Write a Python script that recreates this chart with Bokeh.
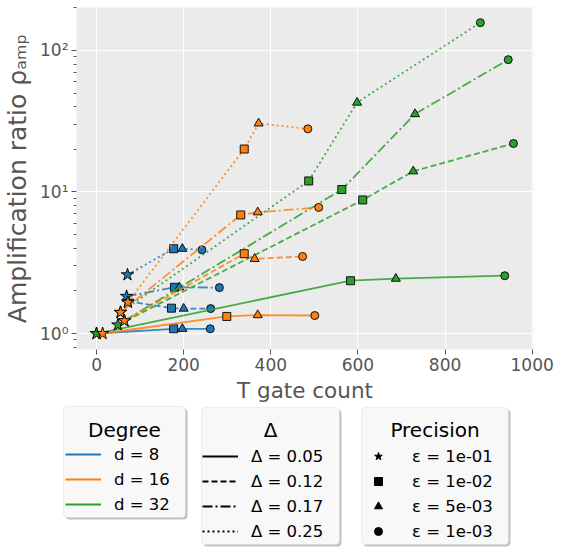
from bokeh.plotting import figure
from bokeh.models import (ColumnDataSource, Range1d, FixedTicker, CustomJSTickFormatter,
                          Legend, LegendItem, Label, BoxAnnotation)
from bokeh.core.properties import field
from bokeh.layouts import column
from bokeh.embed import file_html
from bokeh.resources import INLINE

# ---------------- data ----------------
DEGREES = ["d = 8", "d = 16", "d = 32"]
DELTAS = ["Δ = 0.05", "Δ = 0.12", "Δ = 0.17", "Δ = 0.25"]
PRECISIONS = ["ε = 1e-01", "ε = 1e-02", "ε = 5e-03", "ε = 1e-03"]

# rows: Δ = 0.05, 0.12, 0.17, 0.25 ; columns: ε = 1e-1, 1e-2, 5e-3, 1e-3
t_d8 = [[0, 177, 197, 261], [72, 172, 200, 262], [69, 179, 190, 282], [71, 177, 197, 242]]
amp_d8 = [[1.0, 1.08, 1.08, 1.08], [1.69, 1.51, 1.50, 1.50],
          [1.83, 2.12, 2.12, 2.11], [2.60, 3.97, 3.97, 3.90]]
t_d16 = [[14, 299, 370, 501], [64, 339, 363, 473], [55, 331, 370, 510], [72, 339, 372, 485]]
amp_d16 = [[1.0, 1.32, 1.35, 1.34], [1.23, 3.66, 3.37, 3.50],
           [1.41, 6.88, 7.19, 7.77], [1.66, 20.1, 30.5, 27.9]]
t_d32 = [[0, 583, 687, 937], [49, 611, 727, 957], [64, 563, 731, 945], [55, 487, 598, 881]]
amp_d32 = [[1.0, 2.36, 2.44, 2.56], [1.15, 8.78, 14.0, 22.0],
           [1.23, 10.4, 35.5, 86.0], [1.41, 11.96, 42.8, 157.0]]

X_TICKS = [0, 200, 400, 600, 800, 1000]
Y_TICKS = [1, 10, 100]

# ---------------- styles ----------------
COLORS = ["#1f77b4", "#ff7f0e", "#2ca02c"]
DASHES = ["solid", "6 3", "10 3 2 3", "2 3"]
MARKERS = ["star", "square", "triangle", "circle"]
SIZES = [13, 8, 9, 8]
FONT = "DejaVu Sans"
GREY = "#555555"

T_ALL = [t_d8, t_d16, t_d32]
A_ALL = [amp_d8, amp_d16, amp_d32]

p = figure(width=561, height=405, x_range=Range1d(-46, 1003), y_range=Range1d(0.771, 200.9),
           y_axis_type="log", output_backend="svg", toolbar_location=None,
           min_border_left=76, min_border_right=28, min_border_top=7, min_border_bottom=55)
p.frame_align = False
p.background_fill_color = "#EBEBEB"
p.border_fill_color = "white"
p.outline_line_color = None
p.grid.grid_line_color = "white"
p.grid.grid_line_width = 1

minor = [0.8, 0.9] + [m * 10 ** e for e in range(0, 2) for m in range(2, 10)] + [200]
p.xaxis.ticker = FixedTicker(ticks=X_TICKS)
p.yaxis.ticker = FixedTicker(ticks=Y_TICKS, minor_ticks=minor)
p.yaxis.formatter = CustomJSTickFormatter(code="""
const sup = {"-": "⁻", "0": "⁰", "1": "¹", "2": "²", "3": "³", "4": "⁴",
             "5": "⁵", "6": "⁶", "7": "⁷", "8": "⁸", "9": "⁹"};
const e = Math.round(Math.log10(tick));
return "10" + String(e).split("").map(c => sup[c]).join("");
""")

for ax in (p.xaxis[0], p.yaxis[0]):
    ax.axis_line_color = None
    ax.major_tick_line_color = GREY
    ax.major_tick_out = 5
    ax.major_tick_in = 0
    ax.minor_tick_line_color = GREY
    ax.minor_tick_out = 3
    ax.minor_tick_in = 0
    ax.major_label_text_font = FONT
    ax.major_label_text_font_size = "17px"
    ax.major_label_text_color = GREY
    ax.major_label_standoff = 3
    ax.axis_label_text_font = FONT
    ax.axis_label_text_font_style = "normal"
    ax.axis_label_text_color = GREY
p.xaxis.minor_tick_line_color = None
p.xaxis.axis_label = "T gate count"
p.xaxis.axis_label_text_font_size = "21.5px"
p.xaxis.axis_label_standoff = 4
p.yaxis.axis_label = "Amplification ratio ρₐₘₚ"
p.yaxis.axis_label_text_font_size = "25px"
p.yaxis.axis_label_standoff = 5

for di in [0, 2, 1]:
    for k in range(len(DELTAS)):
        t = T_ALL[di][k]
        a = A_ALL[di][k]
        p.line(t, a, line_color=COLORS[di], line_dash=DASHES[k], line_width=1.8, line_alpha=0.85)
        src = ColumnDataSource(dict(x=t, y=a, m=MARKERS, s=SIZES))
        p.scatter("x", "y", marker=field("m"), size=field("s"), source=src,
                  fill_color=COLORS[di], line_color="black", line_width=0.9)

# ---------------- legends (below) ----------------
H2 = 147
q = figure(width=561, height=H2, x_range=Range1d(0, 561), y_range=Range1d(0, H2),
           x_axis_type=None, y_axis_type=None, output_backend="svg", toolbar_location=None,
           min_border=0)
q.frame_align = False
q.outline_line_color = None
q.background_fill_color = "white"
q.border_fill_color = "white"

PAGE_TOP = 405


def py(y):
    return PAGE_TOP + H2 - y


boxes = [(63, 185, 406, 517), (201, 339, 407, 544), (361, 508, 407, 544)]
for (l, r, t, b) in boxes:
    q.add_layout(BoxAnnotation(left=l + 2, right=r + 2, top=py(t + 2), bottom=py(b + 2),
                               fill_color="#999999", fill_alpha=0.6, line_color=None,
                               border_radius=4, level="underlay"))
    q.add_layout(BoxAnnotation(left=l, right=r, top=py(t), bottom=py(b),
                               fill_color="#F8F8F8", fill_alpha=1.0, line_color="#CCCCCC",
                               line_width=1, border_radius=4, level="underlay"))

# off-screen stand-ins that only give the legend entries their look
OFF = [-100, -90]
deg_r = [q.line(OFF, OFF, line_color=c, line_width=1.8) for c in COLORS]
del_r = [q.line(OFF, OFF, line_color="black", line_dash=d, line_width=1.8) for d in DASHES]
pre_r = [q.scatter(OFF[:1], OFF[:1], marker=m, size=s * 0.7, fill_color="black",
                   line_color="black") for m, s in zip(MARKERS, SIZES)]


def make_legend(labels, rends, x, y, standoff):
    items = [LegendItem(label=lab, renderers=[r]) for lab, r in zip(labels, rends)]
    return Legend(items=items, location=(x, y), orientation="vertical", padding=5, margin=0,
                  spacing=5, glyph_width=36, glyph_height=20, label_height=20,
                  label_standoff=standoff, label_text_font=FONT,
                  label_text_font_size="16.5px", label_text_color="black",
                  background_fill_alpha=0, border_line_color=None)


q.add_layout(make_legend(DEGREES, deg_r, 65, py(514), 13))
q.add_layout(make_legend(DELTAS, del_r, 202, py(541), 13))
q.add_layout(make_legend(PRECISIONS, pre_r, 360, py(541), 16))

for txt, cx in [("Degree", 124), ("Δ", 270), ("Precision", 434.5)]:
    q.add_layout(Label(x=cx, y=py(429), text=txt, text_align="center",
                       text_baseline="alphabetic", text_font=FONT,
                       text_font_size="20px", text_color="black"))

layout = column(p, q, spacing=0)
open("out.html", "w").write(file_html(layout, INLINE))
